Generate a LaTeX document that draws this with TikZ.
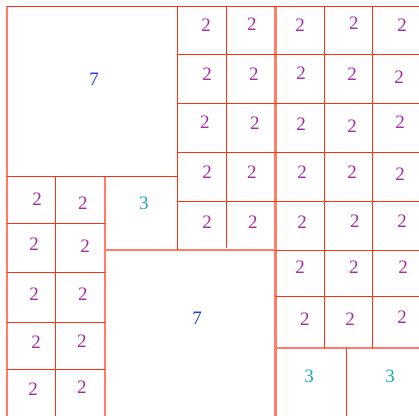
\documentclass[tikz,border=0pt]{standalone}
\usepackage{fontspec}
\setmainfont{Liberation Serif}
\usepackage{tikz}
\usepackage{xcolor}
\definecolor{tilered}{RGB}{255,48,20}
\definecolor{tilepink}{RGB}{255,125,105}
\definecolor{twopurple}{RGB}{165,45,160}
\definecolor{threeteal}{RGB}{30,170,175}
\definecolor{sevenblue}{RGB}{35,60,225}
\tikzstyle{tile} = [draw=tilered, line width=0.9pt]
\tikzstyle{seam} = [draw=tilepink, line width=2.2pt]
\tikzstyle{num} = [inner sep=0pt, font=\fontsize{19}{22}\selectfont]
\tikzstyle{two} = [num, text=twopurple]
\tikzstyle{three} = [num, text=threeteal]
\tikzstyle{seven} = [num, text=sevenblue]

\begin{document}
\begin{tikzpicture}[x=24.4pt, y=-24.4pt]

        % Rahmen
        \useasboundingbox (-0.287,-0.246) rectangle (16.885,16.80);
        \clip (-0.287,-0.246) rectangle (16.885,16.80);

        % Linien
        \draw [seam] (0,0) -- (0,17);
        \draw [seam] (4,7) -- (4,17);
        \draw [seam] (11,0) -- (11,17);
        \draw [seam] (4,10) -- (11,10);
        \draw [seam] (11,14) -- (17,14);
        \draw [tile] (0,0) -- (17,0);
        \draw [tile] (0,7) -- (7,7);
        \foreach \y in {2,4,6,8}
            \draw [tile] (7,\y) -- (17,\y);
        \draw [tile] (11,10) -- (17,10);
        \draw [tile] (11,11.9) -- (17,11.9);
        \foreach \y in {8.93,10.94,12.95,14.9}
            \draw [tile] (0,\y) -- (4,\y);
        \draw [tile] (7,0) -- (7,10);
        \draw [tile] (9,0) -- (9,9.9);
        \draw [tile] (13,0) -- (13,14);
        \draw [tile] (14.97,0) -- (14.97,14);
        \draw [tile] (2,7) -- (2,17);
        \draw [tile] (13.93,14) -- (13.93,17);

        % Zahlen
        \node (sevenA) [seven] at (3.57,2.99) {7};
        \node (sevenB) [seven] at (7.79,12.79) {7};
        \node (threeA) [three] at (5.61,8.07) {3};
        \node (threeB) [three] at (12.38,15.16) {3};
        \node (threeC) [three] at (15.70,15.16) {3};
        \foreach \x/\y [count=\i] in {
            8.16/0.78, 10.04/0.74, 12.01/0.78, 14.22/0.70, 16.19/0.78,
            8.20/2.79, 10.12/2.79, 12.05/2.75, 14.14/2.79, 16.07/2.91,
            8.11/4.75, 10.16/4.80, 12.05/4.84, 14.14/4.92, 16.11/4.75,
            8.20/6.80, 10.04/6.80, 12.09/6.80, 14.14/6.80, 16.11/6.89,
            8.20/8.85, 10.08/8.85, 12.09/8.85, 14.26/8.81, 16.19/8.81,
            12.01/10.70, 14.22/10.70, 16.23/10.70,
            12.21/12.83, 14.06/12.83, 16.19/12.75,
            1.23/7.91, 3.11/8.07,
            1.11/9.75, 3.20/9.84,
            1.11/11.80, 3.11/11.80,
            1.19/13.77, 3.07/13.73,
            1.07/15.70, 3.07/15.61}
            \node (two\i) [two] at (\x,\y) {2};

\end{tikzpicture}
\end{document}
